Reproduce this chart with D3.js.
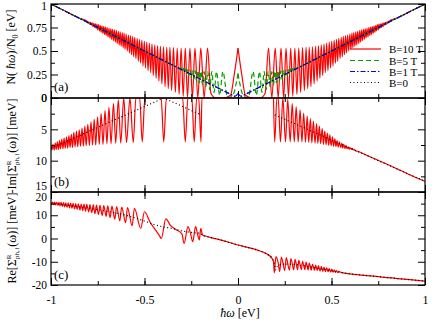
<!DOCTYPE html>
<html>
<head>
<meta charset="utf-8">
<script src="https://cdn.jsdelivr.net/npm/d3@7"></script>
<style>
  body { margin: 0; background: #fff; }
  svg text { font-family: "Liberation Serif", "Times New Roman", serif; fill: #000; }
</style>
</head>
<body>
<svg id="chart" width="436" height="320"></svg>
<script>
// ---- data ----
const omegaTicks = [-1, -0.5, 0, 0.5, 1];
const dosTicks = [0, 0.25, 0.5, 0.75, 1];
const imTicks = [0, 5, 10, 15];
const reTicks = [-20, -10, 0, 10, 20];
const legendLabels = ['B=10 T', 'B=5 T', 'B=1 T', 'B=0'];

// panel (a): DOS for w >= 0 (the curve is symmetric, the left half uses a mirrored scale)
const dos10 = [[0,0.53],[0.02,0.25],[0.04,0.03],[0.08,0.0],[0.12,0.0],[0.145,0.05],
  [0.163,0.53],[0.181,0.0],[0.199,0.53],[0.215,0.0],[0.230,0.53],[0.244,0.0],[0.257,0.53],
  [0.270,0.01],[0.282,0.53],[0.293,0.02],[0.304,0.53],[0.315,0.04],[0.325,0.53],[0.335,0.06],
  [0.345,0.535],[0.355,0.08],[0.364,0.54],[0.373,0.10],[0.381,0.54],[0.390,0.12],[0.398,0.545],
  [0.407,0.15],[0.415,0.55],[0.423,0.18],[0.430,0.555],[0.438,0.21],[0.445,0.565],[0.453,0.24],
  [0.460,0.575],[0.467,0.27],[0.474,0.585],[0.481,0.29],[0.488,0.595],[0.495,0.32],[0.501,0.605],
  [0.508,0.34],[0.514,0.615],[0.521,0.37],[0.527,0.625],[0.533,0.39],[0.539,0.635],[0.546,0.42],
  [0.552,0.645],[0.558,0.44],[0.563,0.655],[0.569,0.46],[0.575,0.665],[0.580,0.48],[0.586,0.67],
  [0.592,0.50],[0.598,0.68],[0.604,0.52],[0.609,0.69],[0.614,0.535],[0.619,0.695],[0.625,0.55],
  [0.630,0.705],[0.635,0.565],[0.640,0.71],[0.646,0.58],[0.651,0.72],[0.656,0.595],[0.661,0.725],
  [0.666,0.61],[0.671,0.73],[0.676,0.625],[0.680,0.735],[0.685,0.64],[0.690,0.74],[0.695,0.65],
  [0.700,0.75],[0.705,0.665],[0.709,0.755],[0.714,0.675],[0.718,0.76],[0.723,0.69],[0.727,0.765],
  [0.732,0.70],[0.736,0.77],[0.741,0.715],[0.745,0.78],[0.750,0.725],[0.754,0.785],[0.759,0.74],
  [0.763,0.79],[0.767,0.75],[0.771,0.795],[0.776,0.76],[0.780,0.80],[0.784,0.775],[0.788,0.805],
  [0.793,0.785],[0.797,0.81],[0.801,0.795],[0.805,0.815],[0.85,0.85],[0.9,0.9],[0.95,0.95],[1,1]];
const dos5 = [[0,0.26],[0.03,0.02],[0.055,0.0],[0.081,0.28],[0.098,0.03],[0.115,0.28],[0.128,0.06],
  [0.140,0.28],[0.151,0.09],[0.162,0.28],[0.172,0.12],[0.181,0.28],[0.190,0.14],[0.198,0.285],
  [0.206,0.16],[0.214,0.29],[0.222,0.18],[0.229,0.29],[0.236,0.20],[0.243,0.295],[0.250,0.22],
  [0.256,0.30],[0.263,0.24],[0.269,0.305],[0.275,0.255],[0.281,0.31],[0.287,0.27],[0.292,0.315],
  [0.298,0.285],[0.303,0.32],[0.309,0.30],[0.314,0.325],[0.33,0.33],[0.36,0.36],[0.4,0.4],
  [0.5,0.5],[0.6,0.6],[0.7,0.7],[0.8,0.8],[0.9,0.9],[1,1]];
const dos1 = [[0,0.05],[0.015,0.02],[0.03,0.03],[0.06,0.06],[0.2,0.2],[0.5,0.5],[1,1]];
const dos0 = [[0,0],[1,1]];

// panel (b): -Im Sigma [meV]
const im10Left = [[-1,7.6],[-0.995,8.3],[-0.989,7.4],[-0.983,8.3],[-0.977,7.2],[-0.972,8.2],
  [-0.966,7.0],[-0.960,8.2],[-0.954,6.8],[-0.949,8.1],[-0.942,6.6],[-0.936,8.1],[-0.930,6.4],
  [-0.924,8.0],[-0.917,6.2],[-0.911,8.0],[-0.904,6.0],[-0.898,7.9],[-0.891,5.8],[-0.885,7.9],
  [-0.878,5.5],[-0.871,7.8],[-0.864,5.3],[-0.857,7.8],[-0.849,5.1],[-0.842,7.7],[-0.834,4.8],
  [-0.827,7.7],[-0.819,4.5],[-0.812,7.6],[-0.803,4.2],[-0.795,7.6],[-0.786,3.8],[-0.778,7.5],
  [-0.769,3.4],[-0.761,7.5],[-0.751,3.0],[-0.742,7.4],[-0.732,2.5],[-0.722,7.4],[-0.711,2.0],
  [-0.701,7.3],[-0.690,1.5],[-0.679,7.3],[-0.666,0.9],[-0.654,7.2],[-0.640,0.3],[-0.627,7.2],
  [-0.611,0.0],[-0.596,7.1],[-0.578,0.0],[-0.560,7.1],[-0.546,0],[-0.526,0],[-0.512,7.0],
  [-0.498,0],[-0.411,0],[-0.397,7.0],[-0.383,0],[-0.296,0],[-0.282,7.0],[-0.268,0],[-0.247,0],
  [-0.234,7.0],[-0.221,0],[-0.21,0],[-0.198,7.0],[-0.193,0],[0.19,0]];
const im10Right = [[0.19,0],[0.196,7.0],[0.208,0],[0.215,0],[0.227,7.0],[0.24,0],[0.254,7.0],
  [0.266,0.2],[0.279,7.0],[0.290,0.9],[0.301,7.0],[0.311,1.4],[0.322,7.0],[0.332,1.9],[0.342,7.0],
  [0.351,2.4],[0.361,7.05],[0.370,2.9],[0.378,7.1],[0.387,3.3],[0.395,7.15],[0.403,3.7],[0.412,7.2],
  [0.420,4.1],[0.427,7.25],[0.435,4.5],[0.442,7.3],[0.450,4.9],[0.457,7.4],[0.464,5.3],[0.471,7.45],
  [0.478,5.6],[0.485,7.55],[0.491,5.9],[0.498,7.6],[0.505,6.2],[0.511,7.7],[0.518,6.5],[0.524,7.75],
  [0.530,6.8],[0.536,7.85],[0.542,7.0],[0.549,7.9],[0.555,7.2],[0.560,8.0],[0.566,7.4],[0.572,8.05],
  [0.578,7.6],[0.583,8.1],[0.589,7.8],[0.595,8.15],[0.600,7.95],[0.606,8.2],[0.611,8.05],[0.616,8.3],
  [0.621,8.2],[0.627,8.4],[0.64,8.5],[0.7,9.3],[0.8,10.6],[0.9,12.0],[1,13.3]];
const im0Left = [[-1,8.0],[-0.397,0],[-0.197,2.7]];
const im0Right = [[0.197,2.7],[1,13.3]];

// panel (c): Re Sigma [meV]
const re10 = [[-1,15.3],[-0.998,14.7],[-0.992,15.7],[-0.986,14.6],[-0.980,15.7],[-0.975,14.4],
  [-0.969,15.6],[-0.963,14.3],[-0.957,15.6],[-0.952,14.0],[-0.946,15.5],[-0.939,13.8],[-0.933,15.4],
  [-0.927,13.6],[-0.921,15.3],[-0.914,13.4],[-0.908,15.3],[-0.901,13.2],[-0.895,15.2],[-0.888,13.0],
  [-0.882,15.1],[-0.874,12.7],[-0.868,15.0],[-0.860,12.5],[-0.854,14.9],[-0.845,12.2],[-0.839,14.8],
  [-0.830,12.0],[-0.824,14.8],[-0.815,11.7],[-0.809,14.7],[-0.798,11.4],[-0.792,14.6],[-0.782,11.1],
  [-0.774,14.5],[-0.765,10.7],[-0.757,14.4],[-0.746,10.3],[-0.738,14.3],[-0.726,9.9],[-0.718,14.2],
  [-0.705,9.5],[-0.697,14.0],[-0.684,9.0],[-0.674,13.9],[-0.659,8.3],[-0.649,13.7],[-0.632,7.6],
  [-0.622,13.5],[-0.601,6.8],[-0.591,13.3],[-0.566,5.5],[-0.554,13.0],[-0.52,4.4],[-0.50,11.5],
  [-0.47,7.0],[-0.44,3.5],[-0.42,1.2],[-0.41,0.0],[-0.386,8.4],[-0.36,5.5],[-0.33,3.8],[-0.30,2.0],
  [-0.288,-2.1],[-0.268,5.1],[-0.255,2.5],[-0.242,-1.4],[-0.227,5.1],[-0.218,2.5],[-0.207,-0.6],
  [-0.199,4.4],[-0.19,1.5],[-0.18,1.2],[-0.15,0.5],[-0.1,-0.5],[-0.05,-1.6],[0,-2.8],[0.05,-3.8],
  [0.1,-4.9],[0.15,-6.5],[0.18,-8.3],[0.19,-10],[0.194,-14.8],[0.203,-7.8],[0.215,-10.5],
  [0.223,-14.2],[0.232,-8.0],[0.250,-13.8],[0.258,-8.2],[0.275,-13.6],[0.283,-8.6],[0.298,-13.5],
  [0.305,-9.0],[0.319,-13.4],[0.325,-9.4],[0.339,-13.4],[0.345,-9.8],[0.358,-13.4],[0.364,-10.2],
  [0.375,-13.5],[0.381,-10.6],[0.392,-13.6],[0.398,-11.0],[0.409,-13.7],[0.415,-11.4],[0.424,-13.8],
  [0.430,-11.7],[0.439,-14.0],[0.445,-12.0],[0.454,-14.1],[0.460,-12.3],[0.468,-14.2],[0.474,-12.6],
  [0.482,-14.3],[0.488,-12.9],[0.495,-14.4],[0.501,-13.2],[0.508,-14.5],[0.514,-13.5],[0.521,-14.6],
  [0.527,-13.8],[0.533,-14.7],[0.539,-14.1],[0.55,-14.6],[0.75,-16.4],[1,-18.3]];
const re0 = [[-1,15.2],[-0.9,14.2],[-0.8,13.0],[-0.7,11.7],[-0.6,10.0],[-0.5,7.5],[-0.45,6.0],
  [-0.4,5.0],[-0.35,4.3],[-0.3,3.3],[-0.25,2.6],[-0.2,2.2],[-0.19,1.5],[-0.15,0.5],[-0.1,-0.5],
  [-0.05,-1.6],[0,-2.8],[0.05,-3.8],[0.1,-4.9],[0.15,-6.5],[0.18,-8.3],[0.195,-11],[0.2,-13.5],
  [0.21,-12.0],[0.24,-11.0],[0.28,-11.0],[0.35,-11.7],[0.45,-13.1],[0.55,-14.6],[0.75,-16.4],[1,-18.3]];

// ---- layout ----
const LEFT = 51, RIGHT = 425;
const svg = d3.select('#chart');

const x = d3.scaleLinear().domain([-1, 1]).range([LEFT, RIGHT]);
const xMirror = d3.scaleLinear().domain([0, 1]).range([x(0), x(-1)]);
const yA = d3.scaleLinear().domain([0, 1]).range([98, 4]);
const yB = d3.scaleLinear().domain([0, 15]).range([98, 192]);
const yC = d3.scaleLinear().domain([-20, 20]).range([285, 192]);

const styles = {
  b10: { stroke: '#ff0000', dash: null },
  b5: { stroke: '#00a000', dash: '5,3' },
  b1: { stroke: '#0000ff', dash: '5,2,1.5,2' },
  b0: { stroke: '#000', dash: '1,2.5' }
};

function panel(id, y, top, bottom) {
  const g = svg.append('g');
  svg.append('clipPath').attr('id', id)
    .append('rect').attr('x', LEFT).attr('y', top).attr('width', RIGHT - LEFT).attr('height', bottom - top);
  const plot = g.append('g').attr('clip-path', `url(#${id})`);
  return { g, plot, y, top, bottom };
}

function drawLine(p, data, xs, st, curve) {
  const line = d3.line().x(d => xs(d[0])).y(d => p.y(d[1])).curve(curve || d3.curveMonotoneX);
  p.plot.append('path').datum(data)
    .attr('d', line)
    .attr('fill', 'none')
    .attr('stroke', st.stroke)
    .attr('stroke-width', 1.2)
    .attr('stroke-dasharray', st.dash);
}

// labelShift: small vertical nudges for labels that would collide at panel joins
function frame(p, ticks, minor, fmt, labelShift) {
  const g = p.g;
  const xMinor = d3.range(-1, 1.001, 0.25);
  // x ticks, inward on top and bottom
  g.append('g').attr('transform', `translate(0,${p.bottom})`)
    .call(d3.axisTop(x).tickValues(xMinor).tickSize(4).tickFormat(''));
  g.append('g').attr('transform', `translate(0,${p.bottom})`)
    .call(d3.axisTop(x).tickValues(omegaTicks).tickSize(7).tickFormat(''));
  g.append('g').attr('transform', `translate(0,${p.top})`)
    .call(d3.axisBottom(x).tickValues(xMinor).tickSize(4).tickFormat(''));
  g.append('g').attr('transform', `translate(0,${p.top})`)
    .call(d3.axisBottom(x).tickValues(omegaTicks).tickSize(7).tickFormat(''));
  // y ticks
  g.append('g').attr('transform', `translate(${LEFT},0)`)
    .call(d3.axisRight(p.y).tickValues(minor).tickSize(4).tickFormat(''));
  g.append('g').attr('transform', `translate(${LEFT},0)`)
    .call(d3.axisRight(p.y).tickValues(ticks).tickSize(7).tickFormat(''));
  g.append('g').attr('transform', `translate(${RIGHT},0)`)
    .call(d3.axisLeft(p.y).tickValues(minor).tickSize(4).tickFormat(''));
  g.append('g').attr('transform', `translate(${RIGHT},0)`)
    .call(d3.axisLeft(p.y).tickValues(ticks).tickSize(7).tickFormat(''));
  // labels
  const lab = g.append('g').attr('transform', `translate(${LEFT},0)`)
    .call(d3.axisLeft(p.y).tickValues(ticks).tickSize(0).tickPadding(4).tickFormat(fmt));
  lab.select('.domain').remove();
  lab.selectAll('text').attr('font-size', 11.5).attr('font-family', 'Liberation Serif')
    .attr('dy', d => (0.32 + (labelShift[d] || 0) / 11.5) + 'em');
  g.append('rect').attr('x', LEFT).attr('y', p.top).attr('width', RIGHT - LEFT).attr('height', p.bottom - p.top)
    .attr('fill', 'none').attr('stroke', '#000').attr('stroke-width', 1.2);
  g.selectAll('.domain').remove();
  g.selectAll('.tick line').attr('stroke', '#000').attr('stroke-width', 1);
}

// panel (a)
const pa = panel('clipA', yA, 4, 98);
[[dos10, 'b10'], [dos5, 'b5'], [dos1, 'b1'], [dos0, 'b0']].forEach(([d, k]) => {
  const curve = k === 'b0' ? d3.curveLinear : d3.curveMonotoneX;
  drawLine(pa, d, x, styles[k], curve);
  drawLine(pa, d, xMirror, styles[k], curve);
});
frame(pa, dosTicks, [0.125, 0.375, 0.625, 0.875], d => String(d), { 1: 1.5 });

// panel (b)
const pb = panel('clipB', yB, 98, 192);
drawLine(pb, im10Left, x, styles.b10);
drawLine(pb, im10Right, x, styles.b10);
drawLine(pb, im0Left, x, styles.b0, d3.curveLinear);
drawLine(pb, im0Right, x, styles.b0, d3.curveLinear);
frame(pb, imTicks, [2.5, 7.5, 12.5], d => String(d), { 15: -6.5 });

// panel (c)
const pc = panel('clipC', yC, 192, 285);
drawLine(pc, re10, x, styles.b10);
drawLine(pc, re0, x, styles.b0);
frame(pc, reTicks, [-15, -5, 5, 15], d => String(d), { 20: 5 });

// x tick labels
const xl = svg.append('g').attr('transform', 'translate(0,285)')
  .call(d3.axisBottom(x).tickValues(omegaTicks).tickSize(0).tickPadding(10).tickFormat(d => String(d)));
xl.select('.domain').remove();
xl.selectAll('text').attr('font-size', 12).attr('font-family', 'Liberation Serif');

// x title
const xt = svg.append('text').attr('x', 240).attr('y', 317).attr('text-anchor', 'middle').attr('font-size', 12);
xt.append('tspan').attr('font-style', 'italic').text('ħω');
xt.append('tspan').text(' [eV]');

// y titles
const ta = svg.append('text').attr('transform', 'translate(15,47) rotate(-90)').attr('text-anchor', 'middle').attr('font-size', 12);
ta.append('tspan').text('N( ');
ta.append('tspan').attr('font-style', 'italic').text('ħω');
ta.append('tspan').text(')/N');
ta.append('tspan').attr('font-size', 8).attr('dy', 3).text('0');
ta.append('tspan').attr('dy', -3).text(' [eV]');

function sigmaLabel(t, prefix) {
  t.append('tspan').text(prefix + '[Σ');
  t.append('tspan').attr('font-size', 7).attr('dy', -5).text('R');
  t.append('tspan').attr('font-size', 7).attr('dx', -4.5).attr('dy', 8).text('ph,↑');
  t.append('tspan').attr('dy', -3).text('(ω)] [meV]');
}
sigmaLabel(svg.append('text').attr('transform', 'translate(16,146) rotate(-90)').attr('text-anchor', 'middle').attr('font-size', 12), '-Im');
sigmaLabel(svg.append('text').attr('transform', 'translate(16,238) rotate(-90)').attr('text-anchor', 'middle').attr('font-size', 12), 'Re');

// panel labels
[['(a)', 91], ['(b)', 186], ['(c)', 279]].forEach(([t, yy]) => {
  svg.append('text').attr('x', 54).attr('y', yy).attr('font-size', 13).text(t);
});

// legend
const legRows = [49, 60.5, 71.5, 82.5];
['b10', 'b5', 'b1', 'b0'].forEach((k, i) => {
  svg.append('line').attr('x1', 350).attr('x2', 381).attr('y1', legRows[i]).attr('y2', legRows[i])
    .attr('stroke', styles[k].stroke).attr('stroke-width', 1.2).attr('stroke-dasharray', styles[k].dash);
  svg.append('text').attr('x', 389).attr('y', legRows[i] + 4).attr('font-size', 11).text(legendLabels[i]);
});
</script>
</body>
</html>
